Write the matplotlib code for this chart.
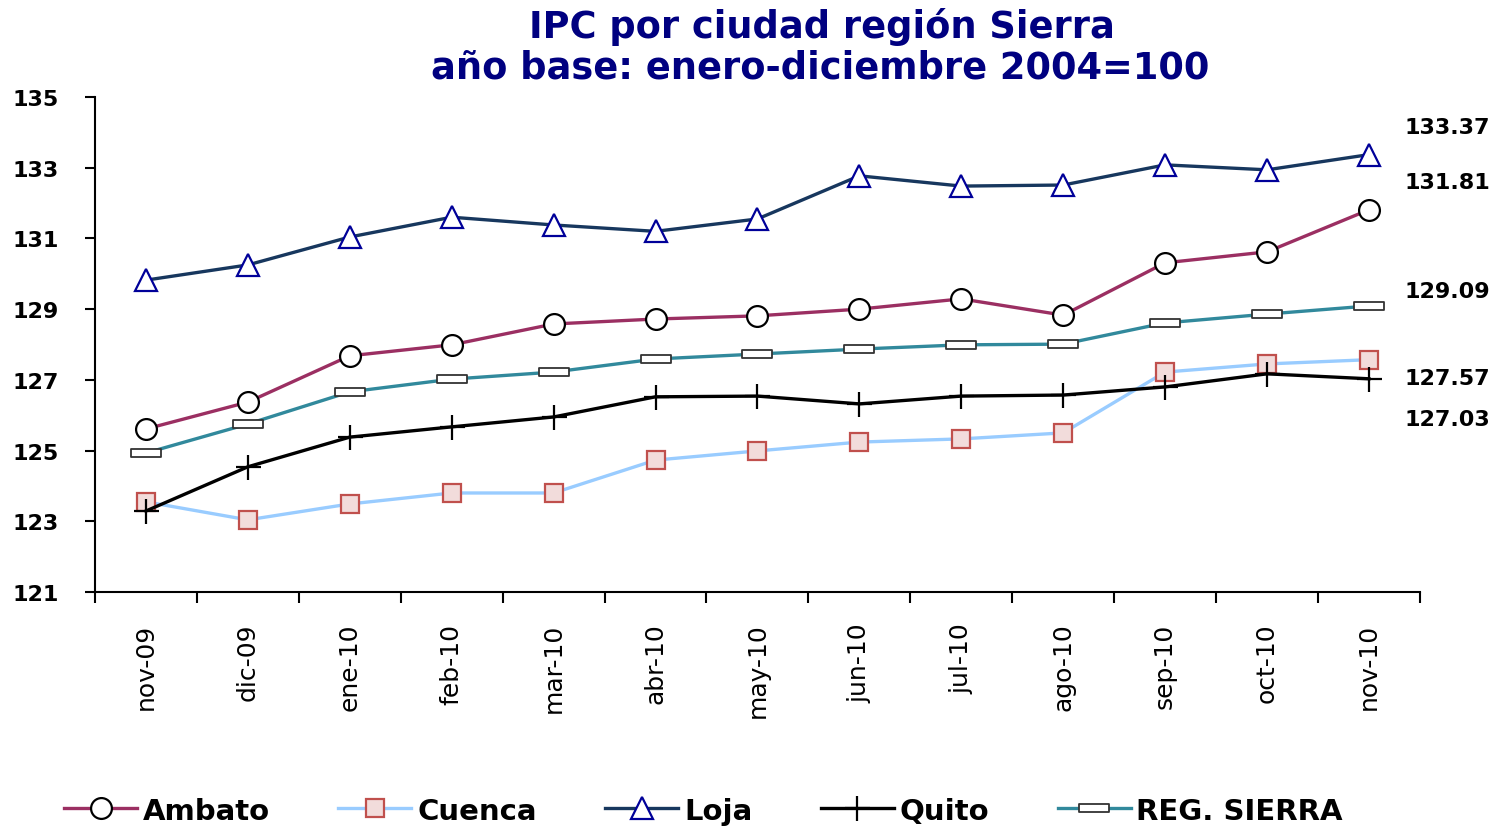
import matplotlib
matplotlib.use("Agg")
import matplotlib.pyplot as plt
from matplotlib.path import Path
from matplotlib.ticker import FixedLocator, NullFormatter
import numpy as np

months = ["nov-09", "dic-09", "ene-10", "feb-10", "mar-10", "abr-10", "may-10",
          "jun-10", "jul-10", "ago-10", "sep-10", "oct-10", "nov-10"]
ambato = [125.61, 126.37, 127.68, 127.99, 128.58, 128.72, 128.81, 129.00, 129.29, 128.83, 130.31, 130.62, 131.81]
cuenca = [123.55, 123.04, 123.49, 123.80, 123.80, 124.73, 124.99, 125.24, 125.33, 125.50, 127.22, 127.45, 127.57]
loja = [129.82, 130.25, 131.04, 131.60, 131.38, 131.20, 131.55, 132.77, 132.48, 132.51, 133.08, 132.94, 133.37]
quito = [123.29, 124.54, 125.38, 125.67, 125.95, 126.52, 126.54, 126.32, 126.54, 126.57, 126.80, 127.17, 127.03]
sierra = [124.93, 125.75, 126.66, 127.02, 127.22, 127.59, 127.73, 127.87, 127.99, 128.01, 128.61, 128.86, 129.09]
yticks = [121, 123, 125, 127, 129, 131, 133, 135]

plt.rcParams['font.family'] = ['DejaVu Sans']

fig = plt.figure(figsize=(15, 8.29), dpi=100)
ax = fig.add_axes([0.0633, 0.2847, 0.8833, 0.5971])

x = np.arange(len(months))
rect = Path([(-1, -0.27), (1, -0.27), (1, 0.27), (-1, 0.27), (-1, -0.27)],
            [Path.MOVETO, Path.LINETO, Path.LINETO, Path.LINETO, Path.CLOSEPOLY])

ax.plot(x, ambato, color="#9B2F62", lw=2.4, marker="o", ms=15, mfc="white",
        mec="black", mew=1.6, label="Ambato", zorder=3)
ax.plot(x, cuenca, color="#99CCFF", lw=2.4, marker="s", ms=13, mfc="#F2DCDB",
        mec="#C0504D", mew=1.6, label="Cuenca", zorder=3)
ax.plot(x, loja, color="#17375E", lw=2.4, marker="^", ms=16, mfc="white",
        mec="#000099", mew=1.6, label="Loja", zorder=3)
ax.plot(x, quito, color="black", lw=2.4, marker="+", ms=18, mec="black",
        mew=1.6, label="Quito", zorder=3)
ax.plot(x, sierra, color="#31899C", lw=2.4, marker=rect, ms=21, mfc="white",
        mec="#333333", mew=1.3, label="REG. SIERRA", zorder=3)

ax.set_xlim(-0.5, len(months) - 0.5)
ax.set_ylim(121, 135)
ax.set_yticks(yticks)
ax.set_yticklabels([str(v) for v in yticks], fontsize=16, fontweight="bold")

ax.xaxis.set_major_locator(FixedLocator(np.arange(-0.5, len(months), 1.0)))
ax.xaxis.set_major_formatter(NullFormatter())
ax.xaxis.set_minor_locator(FixedLocator(x))
ax.set_xticklabels(months, minor=True, rotation=90, fontsize=18)
ax.tick_params(axis="x", which="major", length=8, width=1.5, direction="out")
ax.tick_params(axis="x", which="minor", length=0, pad=22)
ax.tick_params(axis="y", length=7, width=1.5, direction="out", pad=19)

for s in ["top", "right"]:
    ax.spines[s].set_visible(False)
for s in ["left", "bottom"]:
    ax.spines[s].set_linewidth(1.5)

# end-value labels
end_vals = [loja[-1], ambato[-1], sierra[-1], cuenca[-1], quito[-1]]
label_y = [134.15, 132.6, 129.51, 127.05, 125.89]
for v, yy in zip(end_vals, label_y):
    ax.text(12.35, yy, f"{v:.2f}", fontsize=16, fontweight="bold",
            ha="left", va="center", clip_on=False)

fig.text(0.548, 0.968, "IPC por ciudad región Sierra", ha="center", va="center",
         fontsize=26.5, fontweight="bold", color="#000080")
fig.text(0.547, 0.918, "año base: enero-diciembre 2004=100", ha="center", va="center",
         fontsize=26.5, fontweight="bold", color="#000080")

leg = fig.legend(loc="center", bbox_to_anchor=(0.469, 0.021), ncol=5, frameon=False,
                 handlelength=2.5, columnspacing=2.35, handletextpad=0.2,
                 prop={"size": 21, "weight": "bold"})

fig.savefig("out.png", dpi=100)
